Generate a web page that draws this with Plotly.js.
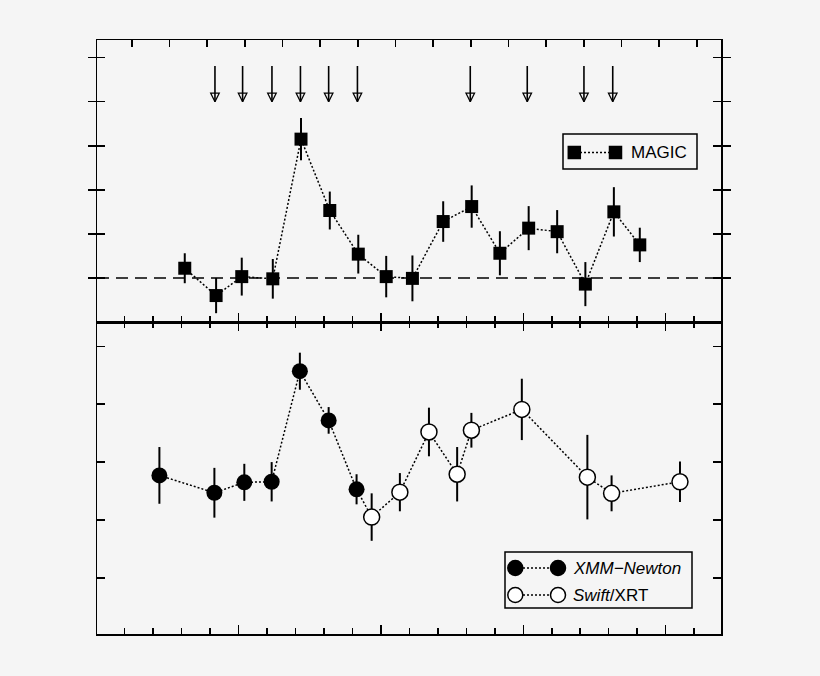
<!DOCTYPE html>
<html><head><meta charset="utf-8">
<script src="https://cdn.plot.ly/plotly-3.0.1.min.js"></script>
<style>body{margin:0;background:#f5f5f5}</style>
</head><body>
<div id="chart" style="width:820px;height:676px"></div>
<script>
// ---- data (days on a common time axis; arbitrary flux units) ----
const magicX   = [3.12, 4.22, 5.12, 6.21, 7.20, 8.21, 9.21, 10.19, 11.11, 12.19, 13.19, 14.18, 15.19, 16.19, 17.18, 18.18, 19.09];
const magicY   = [0.22, -0.40, 0.03, -0.02, 3.15, 1.53, 0.54, 0.03, -0.01, 1.28, 1.62, 0.56, 1.13, 1.05, -0.14, 1.50, 0.75];
const magicErr = [0.34, 0.40, 0.43, 0.45, 0.48, 0.43, 0.44, 0.47, 0.52, 0.46, 0.48, 0.50, 0.50, 0.49, 0.50, 0.56, 0.39];

const arrowX   = [4.18, 5.15, 6.18, 7.18, 8.17, 9.18, 13.14, 15.14, 17.13, 18.14];
const arrowTip = 4.0;
const arrowTop = 4.81;

const xmmX   = [2.23, 4.16, 5.21, 6.17, 7.16, 8.17, 9.15];
const xmmY   = [2.77, 2.47, 2.65, 2.66, 4.57, 3.72, 2.53];
const xmmErr = [0.49, 0.43, 0.32, 0.34, 0.32, 0.23, 0.26];

const swiftX   = [9.68, 10.67, 11.69, 12.68, 13.18, 14.95, 17.25, 18.10, 20.50];
const swiftY   = [2.05, 2.48, 3.52, 2.79, 3.55, 3.91, 2.74, 2.46, 2.66];
const swiftErr = [0.41, 0.33, 0.42, 0.47, 0.30, 0.53, 0.73, 0.31, 0.35];

const magicName = 'MAGIC';
const xmmName   = '<i>XMM\u2212Newton</i>';
const swiftName = '<i>Swift</i>/XRT';

// ---- layout geometry ----
const W = 820, H = 676, ML = 97, MR = 99, MT = 40, MB = 42;
const PW = W - ML - MR, PH = H - MT - MB;
const split = (H - MB - 322) / PH;
const px2x = p => (p - ML) / PW;
const py2y = p => (H - MB - p) / PH;
const xRange = [0.04, 21.94];
const FONT = 'Liberation Sans, Arial, Helvetica, sans-serif';
const DOT = '2px,2px';

function errBars(arr) {
  return {type: 'data', array: arr, visible: true, color: 'black', thickness: 2, width: 0};
}

const traces = [
  {
    x: magicX, y: magicY, xaxis: 'x', yaxis: 'y', mode: 'lines+markers', name: magicName,
    line: {color: 'black', width: 1.5, dash: DOT},
    marker: {symbol: 'square', size: 13, color: 'black'},
    error_y: errBars(magicErr), showlegend: false
  },
  {
    x: arrowX, y: arrowX.map(() => arrowTip), xaxis: 'x', yaxis: 'y', mode: 'markers',
    marker: {symbol: 'arrow-down-open', size: 8.5, color: 'black', line: {width: 1.3, color: 'black'}},
    error_y: {type: 'data', symmetric: false, array: arrowX.map(() => arrowTop - arrowTip),
              arrayminus: arrowX.map(() => 0), visible: true, color: 'black', thickness: 1.6, width: 0},
    showlegend: false
  },
  {
    // invisible copy so the top (secondary) time axis of the upper panel is drawn
    x: magicX, y: magicY, xaxis: 'x3', yaxis: 'y', mode: 'markers',
    marker: {opacity: 0, size: 1}, showlegend: false, hoverinfo: 'skip'
  },
  {
    x: xmmX.concat(swiftX), y: xmmY.concat(swiftY), xaxis: 'x2', yaxis: 'y2', mode: 'lines',
    line: {color: 'black', width: 1.5, dash: DOT}, showlegend: false
  },
  {
    x: xmmX, y: xmmY, xaxis: 'x2', yaxis: 'y2', mode: 'markers', name: xmmName,
    marker: {symbol: 'circle', size: 16, color: 'black'},
    error_y: errBars(xmmErr), showlegend: false
  },
  {
    x: swiftX, y: swiftY, xaxis: 'x2', yaxis: 'y2', mode: 'markers', name: swiftName,
    marker: {symbol: 'circle', size: 16, color: 'white', line: {color: 'black', width: 1.5}},
    error_y: errBars(swiftErr), showlegend: false
  }
];

const axBase = {
  showgrid: false, zeroline: false, showticklabels: false,
  showline: true, linecolor: 'black', linewidth: 1.5,
  ticks: 'inside', tickcolor: 'black', tickwidth: 1.5
};
const xBase = Object.assign({}, axBase, {
  range: xRange, tick0: 0, dtick: 5, ticklen: 9,
  minor: {ticks: 'inside', dtick: 1, tick0: 0, ticklen: 6, tickwidth: 1.5, tickcolor: 'black'}
});

// dashed zero line + custom legends
const shapes = [
  {type: 'line', xref: 'paper', x0: 0, x1: 1, yref: 'y', y0: 0, y1: 0,
   line: {color: 'black', width: 1.5, dash: '12px,7px'}, layer: 'below'}
];
const annotations = [];
function box(x0, x1, y0, y1) {
  shapes.push({type: 'rect', xref: 'paper', yref: 'paper', x0: px2x(x0), x1: px2x(x1), y0: py2y(y1), y1: py2y(y0),
    line: {color: 'black', width: 1.5}, fillcolor: 'rgba(0,0,0,0)'});
}
function sym(kind, cx, cy, s, fill) {
  shapes.push({type: kind, xref: 'paper', yref: 'paper',
    x0: px2x(cx - s / 2), x1: px2x(cx + s / 2), y0: py2y(cy + s / 2), y1: py2y(cy - s / 2),
    line: {color: 'black', width: 1.5}, fillcolor: fill});
}
function seg(xa, xb, y) {
  shapes.push({type: 'line', xref: 'paper', yref: 'paper', x0: px2x(xa), x1: px2x(xb), y0: py2y(y), y1: py2y(y),
    line: {color: 'black', width: 1.5, dash: DOT}});
}
function label(text, x, y) {
  annotations.push({text: text, xref: 'paper', yref: 'paper', x: px2x(x), y: py2y(y), xanchor: 'left', yanchor: 'middle',
    showarrow: false, font: {family: FONT, size: 17, color: 'black'}});
}
// MAGIC legend
box(563, 697, 134, 169);
seg(580, 610, 152.5);
sym('rect', 574.3, 152.5, 12, 'black');
sym('rect', 615.5, 152.5, 12, 'black');
label(magicName, 629, 152.5);
// X-ray legend
box(505, 692, 552, 608);
seg(523, 550, 568);
sym('circle', 515.3, 568, 15, 'black');
sym('circle', 558, 568, 15, 'black');
label(xmmName, 571, 568);
seg(523, 550, 595);
sym('circle', 515.3, 595, 15, 'white');
sym('circle', 558, 595, 15, 'white');
label(swiftName, 571, 595);

const layout = {
  width: W, height: H,
  margin: {l: ML, r: MR, t: MT, b: MB, pad: 0},
  paper_bgcolor: '#f5f5f5', plot_bgcolor: '#f5f5f5',
  font: {family: FONT, color: 'black'},
  showlegend: false,
  xaxis: Object.assign({}, xBase, {anchor: 'y', domain: [0, 1], mirror: false}),
  xaxis2: Object.assign({}, xBase, {anchor: 'y2', domain: [0, 1], matches: 'x', mirror: 'allticks'}),
  xaxis3: Object.assign({}, axBase, {overlaying: 'x', anchor: 'y', side: 'top', range: xRange,
    tick0: 1.26, dtick: 1.322, ticklen: 7}),
  yaxis: Object.assign({}, axBase, {anchor: 'x', domain: [split, 1], range: [-1, 5.4], tick0: 0, dtick: 1,
    ticklen: 8, mirror: 'allticks'}),
  yaxis2: Object.assign({}, axBase, {anchor: 'x2', domain: [0, split], range: [0.03, 5.42], tick0: 0, dtick: 1,
    ticklen: 8, mirror: 'allticks'}),
  shapes: shapes,
  annotations: annotations
};

Plotly.newPlot('chart', traces, layout, {staticPlot: true, displayModeBar: false});
</script>
</body></html>
